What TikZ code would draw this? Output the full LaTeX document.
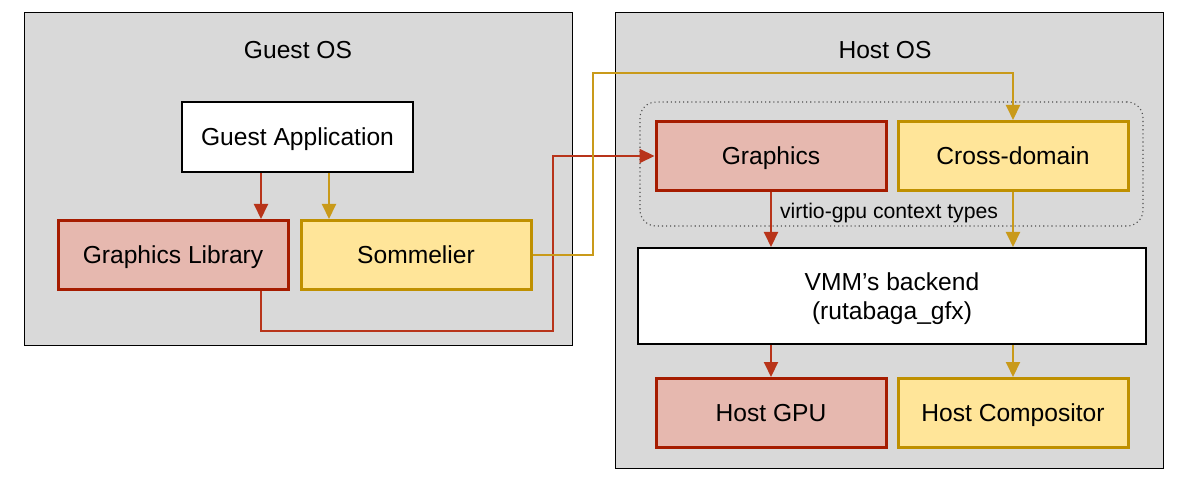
\documentclass[tikz,border=0pt]{standalone}
\usepackage{fontspec}
\setmainfont{Liberation Sans}
\usetikzlibrary{arrows.meta}
\definecolor{bgray}{HTML}{D9D9D9}
\definecolor{redfill}{HTML}{E6B8AF}
\definecolor{redline}{HTML}{A61C00}
\definecolor{redconn}{HTML}{B8341A}
\definecolor{goldfill}{HTML}{FFE599}
\definecolor{goldline}{HTML}{BF9000}
\definecolor{goldconn}{HTML}{C99A1A}
\tikzset{
  osbox/.style={draw=black, line width=1pt, fill=bgray},
  bigtext/.style={font=\fontsize{24.6}{29}\selectfont},
  centered/.style={text height=17.6pt, text depth=0pt},
  whitebox/.style={draw=black, line width=2pt, fill=white, bigtext, align=center},
  redbox/.style={draw=redline, line width=3pt, fill=redfill, bigtext, centered, minimum width=230pt, minimum height=69pt},
  goldbox/.style={draw=goldline, line width=3pt, fill=goldfill, bigtext, centered, minimum width=230pt, minimum height=69pt},
  redarrow/.style={draw=redconn, line width=2pt, -{Triangle[length=15pt,width=14pt]}},
  goldarrow/.style={draw=goldconn, line width=2pt, -{Triangle[length=15pt,width=14pt]}},
  ctxbox/.style={draw=black!70, line width=1.1pt, dash pattern=on 1.1pt off 3pt, rounded corners=16pt},
}
\begin{document}
\begin{tikzpicture}[x=1pt,y=-1pt]
\useasboundingbox (0,0) rectangle (1196,486);
\fill[white] (0,0) rectangle (1196,486);
% OS boxes
\node[osbox, minimum width=548pt, minimum height=333pt, anchor=north west, inner sep=0pt] (guest) at (24,12) {};
\node[osbox, minimum width=548pt, minimum height=456pt, anchor=north west, inner sep=0pt] (host) at (615,12) {};
\node[bigtext, centered] (guesttitle) at (298,50) {Guest OS};
\node[bigtext, centered] (hosttitle) at (885,50) {Host OS};
% context types box
\node[ctxbox, minimum width=503pt, minimum height=124pt, inner sep=0pt] (ctx) at (891.5,164) {};
\node[font=\fontsize{21.2}{25}\selectfont] (ctxlabel) at (889,213) {virtio-gpu context types};
% guest nodes
\node[whitebox, centered, minimum width=231pt, minimum height=70pt] (ga) at (297.5,137) {Guest Application};
\node[redbox] (gl) at (173,255) {Graphics Library};
\node[goldbox] (som) at (416,255) {Sommelier};
% host nodes
\node[redbox] (gfx) at (771,156) {Graphics};
\node[goldbox] (cd) at (1013,156) {Cross-domain};
\node[whitebox, text depth=0pt, minimum width=508pt, minimum height=96pt] (vmm) at (892,296) {VMM’s backend\\(rutabaga\_gfx)};
\node[redbox] (gpu) at (771,413) {Host GPU};
\node[goldbox] (comp) at (1013,413) {Host Compositor};
% coordinates
\coordinate (rA) at (261,331);
\coordinate (rB) at (553,331);
\coordinate (gX) at (329,0);
\coordinate (gA) at (593,73);
% guest arrows
\draw[redarrow] (ga.south -| rA) -- (gl.north -| rA);
\draw[goldarrow] (ga.south -| gX) -- (som.north -| gX);
% cross connectors
\draw[redarrow] (gl.south -| rA) -- (rA) -- (rB) |- (gfx.west);
\draw[goldarrow] (som.east) -| (gA) -| (cd.north);
% host arrows
\draw[redarrow] (gfx.south) -- (gfx.south |- vmm.north);
\draw[goldarrow] (cd.south) -- (cd.south |- vmm.north);
\draw[redarrow] (gpu.north |- vmm.south) -- (gpu.north);
\draw[goldarrow] (comp.north |- vmm.south) -- (comp.north);
\end{tikzpicture}
\end{document}
